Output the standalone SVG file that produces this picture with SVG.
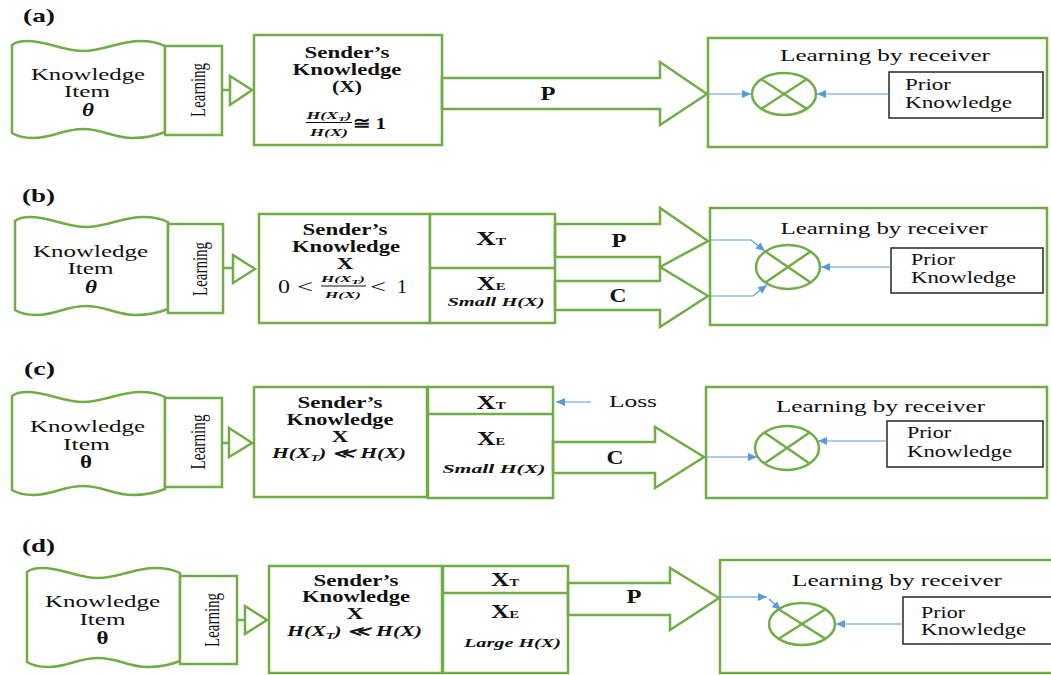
<svg xmlns="http://www.w3.org/2000/svg" width="1051" height="675" viewBox="0 0 1051 675">
<defs>
<style>
.g{fill:#fff;stroke:#70AD47;stroke-width:2.5}
.ga{fill:none;stroke:#70AD47;stroke-width:2.5}
.gl{fill:none;stroke:#70AD47;stroke-width:2.5}
.pk{fill:#fff;stroke:#333;stroke-width:1.6}
.bl{fill:none;stroke:#5B9BD5;stroke-width:1.2;marker-end:url(#ah)}
.t{font-family:"Liberation Serif","Times New Roman",serif;fill:#111}
.s17{font-size:17px}
.s16{font-size:16px}
.pc{font-size:19px;font-weight:bold}
.th{font-size:19px;font-weight:bold}
.b{font-weight:bold}
.i{font-style:italic}
.m{text-anchor:middle}
.lbl{font-family:"Liberation Serif","Times New Roman",serif;font-weight:bold;font-size:19px;fill:#111}
</style>
<marker id="ah" markerUnits="userSpaceOnUse" markerWidth="10" markerHeight="8" refX="9" refY="4" orient="auto"><path d="M0,0 L9,4 L0,8 z" fill="#5B9BD5"/></marker>
</defs>

<!-- panel labels -->
<text class="lbl" x="23" y="22" textLength="32" lengthAdjust="spacingAndGlyphs">(a)</text>
<text class="lbl" x="22" y="202" textLength="33" lengthAdjust="spacingAndGlyphs">(b)</text>
<text class="lbl" x="24" y="375" textLength="31" lengthAdjust="spacingAndGlyphs">(c)</text>
<text class="lbl" x="22" y="552" textLength="33" lengthAdjust="spacingAndGlyphs">(d)</text>

<!-- ================= PANEL A ================= -->
<g id="a-item">
<path class="g" d="M12,45 Q17,41 27,41 C47,41 63,51 83,51 S120,41 140,41 Q155,41 165,46 L165,132 Q150,138 133,138 C113,138 103,129 83,129 S53,138 33,138 Q20,138 12,133 Z"/>
<text class="t s17 m" x="88" y="80" textLength="114" lengthAdjust="spacingAndGlyphs">Knowledge</text>
<text class="t s16 m" x="87" y="97" textLength="46" lengthAdjust="spacingAndGlyphs">Item</text>
<text class="t th m i" x="88" y="116" textLength="12" lengthAdjust="spacingAndGlyphs">θ</text>
</g>
<g id="a-learning">
<rect class="g" x="165" y="46" width="57" height="89"/>
<text class="t m" font-size="16" transform="translate(198,90) scale(1.35,1) rotate(-90)" dominant-baseline="central" textLength="54" lengthAdjust="spacingAndGlyphs">Learning</text>
</g>
<g id="a-sender">
<rect class="g" x="254" y="35" width="188" height="110"/>
<text class="t s16 m b" x="347" y="58" textLength="85" lengthAdjust="spacingAndGlyphs">Sender’s</text>
<text class="t s16 m b" x="347" y="75" textLength="109" lengthAdjust="spacingAndGlyphs">Knowledge</text>
<text class="t s16 m b" x="347" y="92" textLength="30" lengthAdjust="spacingAndGlyphs">(X)</text>
<text class="t m b i" font-size="10" x="329" y="119" textLength="45" lengthAdjust="spacingAndGlyphs">H(X<tspan font-size="7" dy="2">T</tspan><tspan dy="-2">)</tspan></text>
<line x1="306" y1="122.5" x2="352" y2="122.5" stroke="#111" stroke-width="1"/>
<text class="t m b i" font-size="10" x="329" y="136" textLength="38" lengthAdjust="spacingAndGlyphs">H(X)</text>
<text class="t b" font-size="17" x="353" y="129" textLength="33" lengthAdjust="spacingAndGlyphs">≅ 1</text>
</g>
<g id="a-receiver">
<rect class="g" x="708" y="38" width="339" height="109"/>
<text class="t s17 m" x="885" y="61" textLength="210" lengthAdjust="spacingAndGlyphs">Learning by receiver</text>
</g>
<g id="a-mult" transform="translate(784,94)">
<ellipse class="g" cx="0" cy="0" rx="32" ry="21"/>
<path class="gl" d="M-22.6,-14.8 L22.6,14.8 M-22.6,14.8 L22.6,-14.8"/>
</g>
<g id="a-prior">
<rect class="pk" x="889" y="72" width="154" height="46"/>
<text class="t s17" x="905" y="90" textLength="46" lengthAdjust="spacingAndGlyphs">Prior</text>
<text class="t s17" x="905" y="108" textLength="107" lengthAdjust="spacingAndGlyphs">Knowledge</text>
</g>
<g id="a-connectors">
<path class="ga" d="M222,90 H230"/>
<polygon class="g" points="230,76 252,90 230,105"/>
<polygon class="ga" points="442,78 660,78 660,62 707,94 660,125 660,109 442,109"/>
<text class="t pc m" x="548" y="100" textLength="15" lengthAdjust="spacingAndGlyphs">P</text>
<path class="bl" d="M709,94 H751"/>
<path class="bl" d="M889,94 H817"/>
</g>

<!-- ================= PANEL B ================= -->
<g id="b-item">
<path class="g" d="M15,221 Q20,217 30,217 C50,217 66,227 86,227 S123,217 143,217 Q158,217 168,222 L168,309 Q153,315 136,315 C116,315 106,306 86,306 S56,315 36,315 Q23,315 15,310 Z"/>
<text class="t s17 m" x="90.5" y="257" textLength="115" lengthAdjust="spacingAndGlyphs">Knowledge</text>
<text class="t s16 m" x="90.5" y="274" textLength="46" lengthAdjust="spacingAndGlyphs">Item</text>
<text class="t th m i" x="91" y="293" textLength="12" lengthAdjust="spacingAndGlyphs">θ</text>
</g>
<g id="b-learning">
<rect class="g" x="168" y="224" width="55" height="89"/>
<text class="t m" font-size="16" transform="translate(200,269) scale(1.35,1) rotate(-90)" dominant-baseline="central" textLength="54" lengthAdjust="spacingAndGlyphs">Learning</text>
</g>
<g id="b-sender">
<rect class="g" x="259" y="214" width="171" height="109"/>
<text class="t s16 m b" x="345" y="235" textLength="85" lengthAdjust="spacingAndGlyphs">Sender’s</text>
<text class="t s16 m b" x="346" y="252" textLength="108" lengthAdjust="spacingAndGlyphs">Knowledge</text>
<text class="t s17 m b" x="345" y="269" textLength="17" lengthAdjust="spacingAndGlyphs">X</text>
<text class="t m" font-size="18" x="284" y="293" textLength="12" lengthAdjust="spacingAndGlyphs">0</text>
<text class="t m" font-size="18" x="305" y="293" textLength="16" lengthAdjust="spacingAndGlyphs">&lt;</text>
<text class="t m b i" font-size="9" x="343" y="282" textLength="44" lengthAdjust="spacingAndGlyphs">H(X<tspan font-size="7" dy="2">T</tspan><tspan dy="-2">)</tspan></text>
<line x1="321" y1="286" x2="366" y2="286" stroke="#111" stroke-width="1"/>
<text class="t m b i" font-size="9" x="343" y="298" textLength="36" lengthAdjust="spacingAndGlyphs">H(X)</text>
<text class="t m" font-size="18" x="378" y="293" textLength="16" lengthAdjust="spacingAndGlyphs">&lt;</text>
<text class="t m" font-size="18" x="402" y="293" textLength="10" lengthAdjust="spacingAndGlyphs">1</text>
</g>
<g id="b-xtxe">
<rect class="g" x="430" y="214" width="125" height="109"/>
<line class="gl" x1="430" y1="268" x2="555" y2="268"/>
<text class="t m b" font-size="18" x="491" y="245" textLength="30" lengthAdjust="spacingAndGlyphs">X<tspan font-size="10">T</tspan></text>
<text class="t m b" font-size="18" x="491" y="290" textLength="29" lengthAdjust="spacingAndGlyphs">X<tspan font-size="10">E</tspan></text>
<text class="t m b i" font-size="12" x="496" y="306" textLength="97" lengthAdjust="spacingAndGlyphs">Small H(X)</text>
</g>
<g id="b-receiver">
<rect class="g" x="710" y="208" width="337" height="117"/>
<text class="t s17 m" x="884" y="234" textLength="207" lengthAdjust="spacingAndGlyphs">Learning by receiver</text>
</g>
<g id="b-mult" transform="translate(788,267)">
<ellipse class="g" cx="0" cy="0" rx="32" ry="22"/>
<path class="gl" d="M-22.6,-15.5 L22.6,15.5 M-22.6,15.5 L22.6,-15.5"/>
</g>
<g id="b-prior">
<rect class="pk" x="891" y="248" width="152" height="45"/>
<text class="t s17" x="911" y="265" textLength="44" lengthAdjust="spacingAndGlyphs">Prior</text>
<text class="t s17" x="911" y="283" textLength="105" lengthAdjust="spacingAndGlyphs">Knowledge</text>
</g>
<g id="b-connectors">
<path class="ga" d="M223,268 H233"/>
<polygon class="g" points="233,255 255,269 233,283"/>
<polygon class="ga" points="555,224 660,224 660,208 708,241 660,267 660,257 555,257"/>
<polygon class="ga" points="555,281 660,281 660,267 708,296 660,327 660,310 555,310"/>
<text class="t pc m" x="619" y="247" textLength="15" lengthAdjust="spacingAndGlyphs">P</text>
<text class="t pc m" x="618" y="302" textLength="17" lengthAdjust="spacingAndGlyphs">C</text>
<path class="bl" d="M711,240 H751 L765,251"/>
<path class="bl" d="M711,296 H753 L767,285"/>
<path class="bl" d="M891,267 H821"/>
</g>

<!-- ================= PANEL C ================= -->
<g id="c-item">
<path class="g" d="M12,396 Q17,392 27,392 C47,392 63,402 83,402 S120,392 140,392 Q155,392 165,397 L165,489 Q150,495 133,495 C113,495 103,486 83,486 S53,495 33,495 Q20,495 12,490 Z"/>
<text class="t s17 m" x="87.5" y="432" textLength="115" lengthAdjust="spacingAndGlyphs">Knowledge</text>
<text class="t s16 m" x="86.5" y="450" textLength="47" lengthAdjust="spacingAndGlyphs">Item</text>
<text class="t th m" x="86" y="468" textLength="12" lengthAdjust="spacingAndGlyphs">θ</text>
</g>
<g id="c-learning">
<rect class="g" x="165" y="398" width="57" height="89"/>
<text class="t m" font-size="16" transform="translate(198,442) scale(1.35,1) rotate(-90)" dominant-baseline="central" textLength="55" lengthAdjust="spacingAndGlyphs">Learning</text>
</g>
<g id="c-sender">
<rect class="g" x="254" y="387" width="173" height="110"/>
<text class="t s16 m b" x="340" y="408" textLength="85" lengthAdjust="spacingAndGlyphs">Sender’s</text>
<text class="t s16 m b" x="340" y="425" textLength="107" lengthAdjust="spacingAndGlyphs">Knowledge</text>
<text class="t s17 m b" x="340" y="442" textLength="17" lengthAdjust="spacingAndGlyphs">X</text>
<text class="t m b i" font-size="14" x="339" y="458" textLength="134" lengthAdjust="spacingAndGlyphs">H(X<tspan font-size="9" dy="3">T</tspan><tspan dy="-3">) ≪ H(X)</tspan></text>
</g>
<g id="c-xtxe">
<rect class="g" x="428" y="387" width="125" height="111"/>
<line class="gl" x1="428" y1="414" x2="553" y2="414"/>
<text class="t m b" font-size="18" x="491" y="409" textLength="29" lengthAdjust="spacingAndGlyphs">X<tspan font-size="10">T</tspan></text>
<text class="t m b" font-size="18" x="491" y="445" textLength="28" lengthAdjust="spacingAndGlyphs">X<tspan font-size="10">E</tspan></text>
<text class="t m b i" font-size="12" x="494" y="473" textLength="103" lengthAdjust="spacingAndGlyphs">Small H(X)</text>
</g>
<g id="c-loss">
<text class="t s17" x="609" y="407" textLength="48" lengthAdjust="spacingAndGlyphs">Loss</text>
</g>
<g id="c-receiver">
<rect class="g" x="706" y="387" width="341" height="111"/>
<text class="t s17 m" x="880.5" y="412" textLength="209" lengthAdjust="spacingAndGlyphs">Learning by receiver</text>
</g>
<g id="c-mult" transform="translate(787,448)">
<ellipse class="g" cx="0" cy="0" rx="32" ry="22"/>
<path class="gl" d="M-22.6,-15.5 L22.6,15.5 M-22.6,15.5 L22.6,-15.5"/>
</g>
<g id="c-prior">
<rect class="pk" x="887" y="421" width="156" height="46"/>
<text class="t s17" x="907" y="438" textLength="44" lengthAdjust="spacingAndGlyphs">Prior</text>
<text class="t s17" x="907" y="457" textLength="105" lengthAdjust="spacingAndGlyphs">Knowledge</text>
</g>
<g id="c-connectors">
<path class="ga" d="M222,443 H229"/>
<polygon class="g" points="229,428 252,443 229,457"/>
<path class="bl" d="M591,402 H556"/>
<polygon class="ga" points="553,442 655,442 655,427 704,457 655,488 655,473 553,473"/>
<text class="t pc m" x="615" y="464" textLength="17" lengthAdjust="spacingAndGlyphs">C</text>
<path class="bl" d="M706,457 H757"/>
<path class="bl" d="M887,441 H818"/>
</g>

<!-- ================= PANEL D ================= -->
<g id="d-item">
<path class="g" d="M27,572 Q32,568 42,568 C62,568 78,578 98,578 S135,568 155,568 Q170,568 180,573 L180,661 Q165,667 148,667 C128,667 118,658 98,658 S68,667 48,667 Q35,667 27,662 Z"/>
<text class="t s17 m" x="102.5" y="607" textLength="115" lengthAdjust="spacingAndGlyphs">Knowledge</text>
<text class="t s16 m" x="102.5" y="625" textLength="46" lengthAdjust="spacingAndGlyphs">Item</text>
<text class="t th m" x="102.5" y="644" textLength="12" lengthAdjust="spacingAndGlyphs">θ</text>
</g>
<g id="d-learning">
<rect class="g" x="180" y="576" width="57" height="88"/>
<text class="t m" font-size="16" transform="translate(212,620) scale(1.35,1) rotate(-90)" dominant-baseline="central" textLength="54" lengthAdjust="spacingAndGlyphs">Learning</text>
</g>
<g id="d-sender">
<rect class="g" x="269" y="566" width="173" height="107"/>
<text class="t s16 m b" x="356" y="586" textLength="85" lengthAdjust="spacingAndGlyphs">Sender’s</text>
<text class="t s16 m b" x="356" y="602" textLength="108" lengthAdjust="spacingAndGlyphs">Knowledge</text>
<text class="t s17 m b" x="355" y="619" textLength="17" lengthAdjust="spacingAndGlyphs">X</text>
<text class="t m b i" font-size="14" x="354.5" y="636" textLength="135" lengthAdjust="spacingAndGlyphs">H(X<tspan font-size="9" dy="3">T</tspan><tspan dy="-3">) ≪ H(X)</tspan></text>
</g>
<g id="d-xtxe">
<rect class="g" x="443" y="566" width="125" height="107"/>
<line class="gl" x1="443" y1="593" x2="568" y2="593"/>
<text class="t m b" font-size="18" x="505" y="586" textLength="28" lengthAdjust="spacingAndGlyphs">X<tspan font-size="10">T</tspan></text>
<text class="t m b" font-size="18" x="505" y="618" textLength="28" lengthAdjust="spacingAndGlyphs">X<tspan font-size="10">E</tspan></text>
<text class="t m b i" font-size="12" x="512.5" y="647" textLength="97" lengthAdjust="spacingAndGlyphs">Large H(X)</text>
</g>
<g id="d-receiver">
<rect class="g" x="720" y="560" width="345" height="113"/>
<text class="t s17 m" x="897" y="586" textLength="210" lengthAdjust="spacingAndGlyphs">Learning by receiver</text>
</g>
<g id="d-mult" transform="translate(802,624)">
<ellipse class="g" cx="0" cy="0" rx="33" ry="21"/>
<path class="gl" d="M-23.3,-14.8 L23.3,14.8 M-23.3,14.8 L23.3,-14.8"/>
</g>
<g id="d-prior">
<rect class="pk" x="903" y="597" width="160" height="47"/>
<text class="t s17" x="921" y="618" textLength="44" lengthAdjust="spacingAndGlyphs">Prior</text>
<text class="t s17" x="921" y="635" textLength="105" lengthAdjust="spacingAndGlyphs">Knowledge</text>
</g>
<g id="d-connectors">
<path class="ga" d="M237,620 H245"/>
<polygon class="g" points="245,606 267,620 245,634"/>
<polygon class="ga" points="568,583 670,583 670,568 719,598 670,630 670,615 568,615"/>
<text class="t pc m" x="634" y="603" textLength="15" lengthAdjust="spacingAndGlyphs">P</text>
<path class="bl" d="M721,597 H767"/>
<path class="bl" d="M769,599 L781,610"/>
<path class="bl" d="M903,624 H836"/>
</g>
</svg>
